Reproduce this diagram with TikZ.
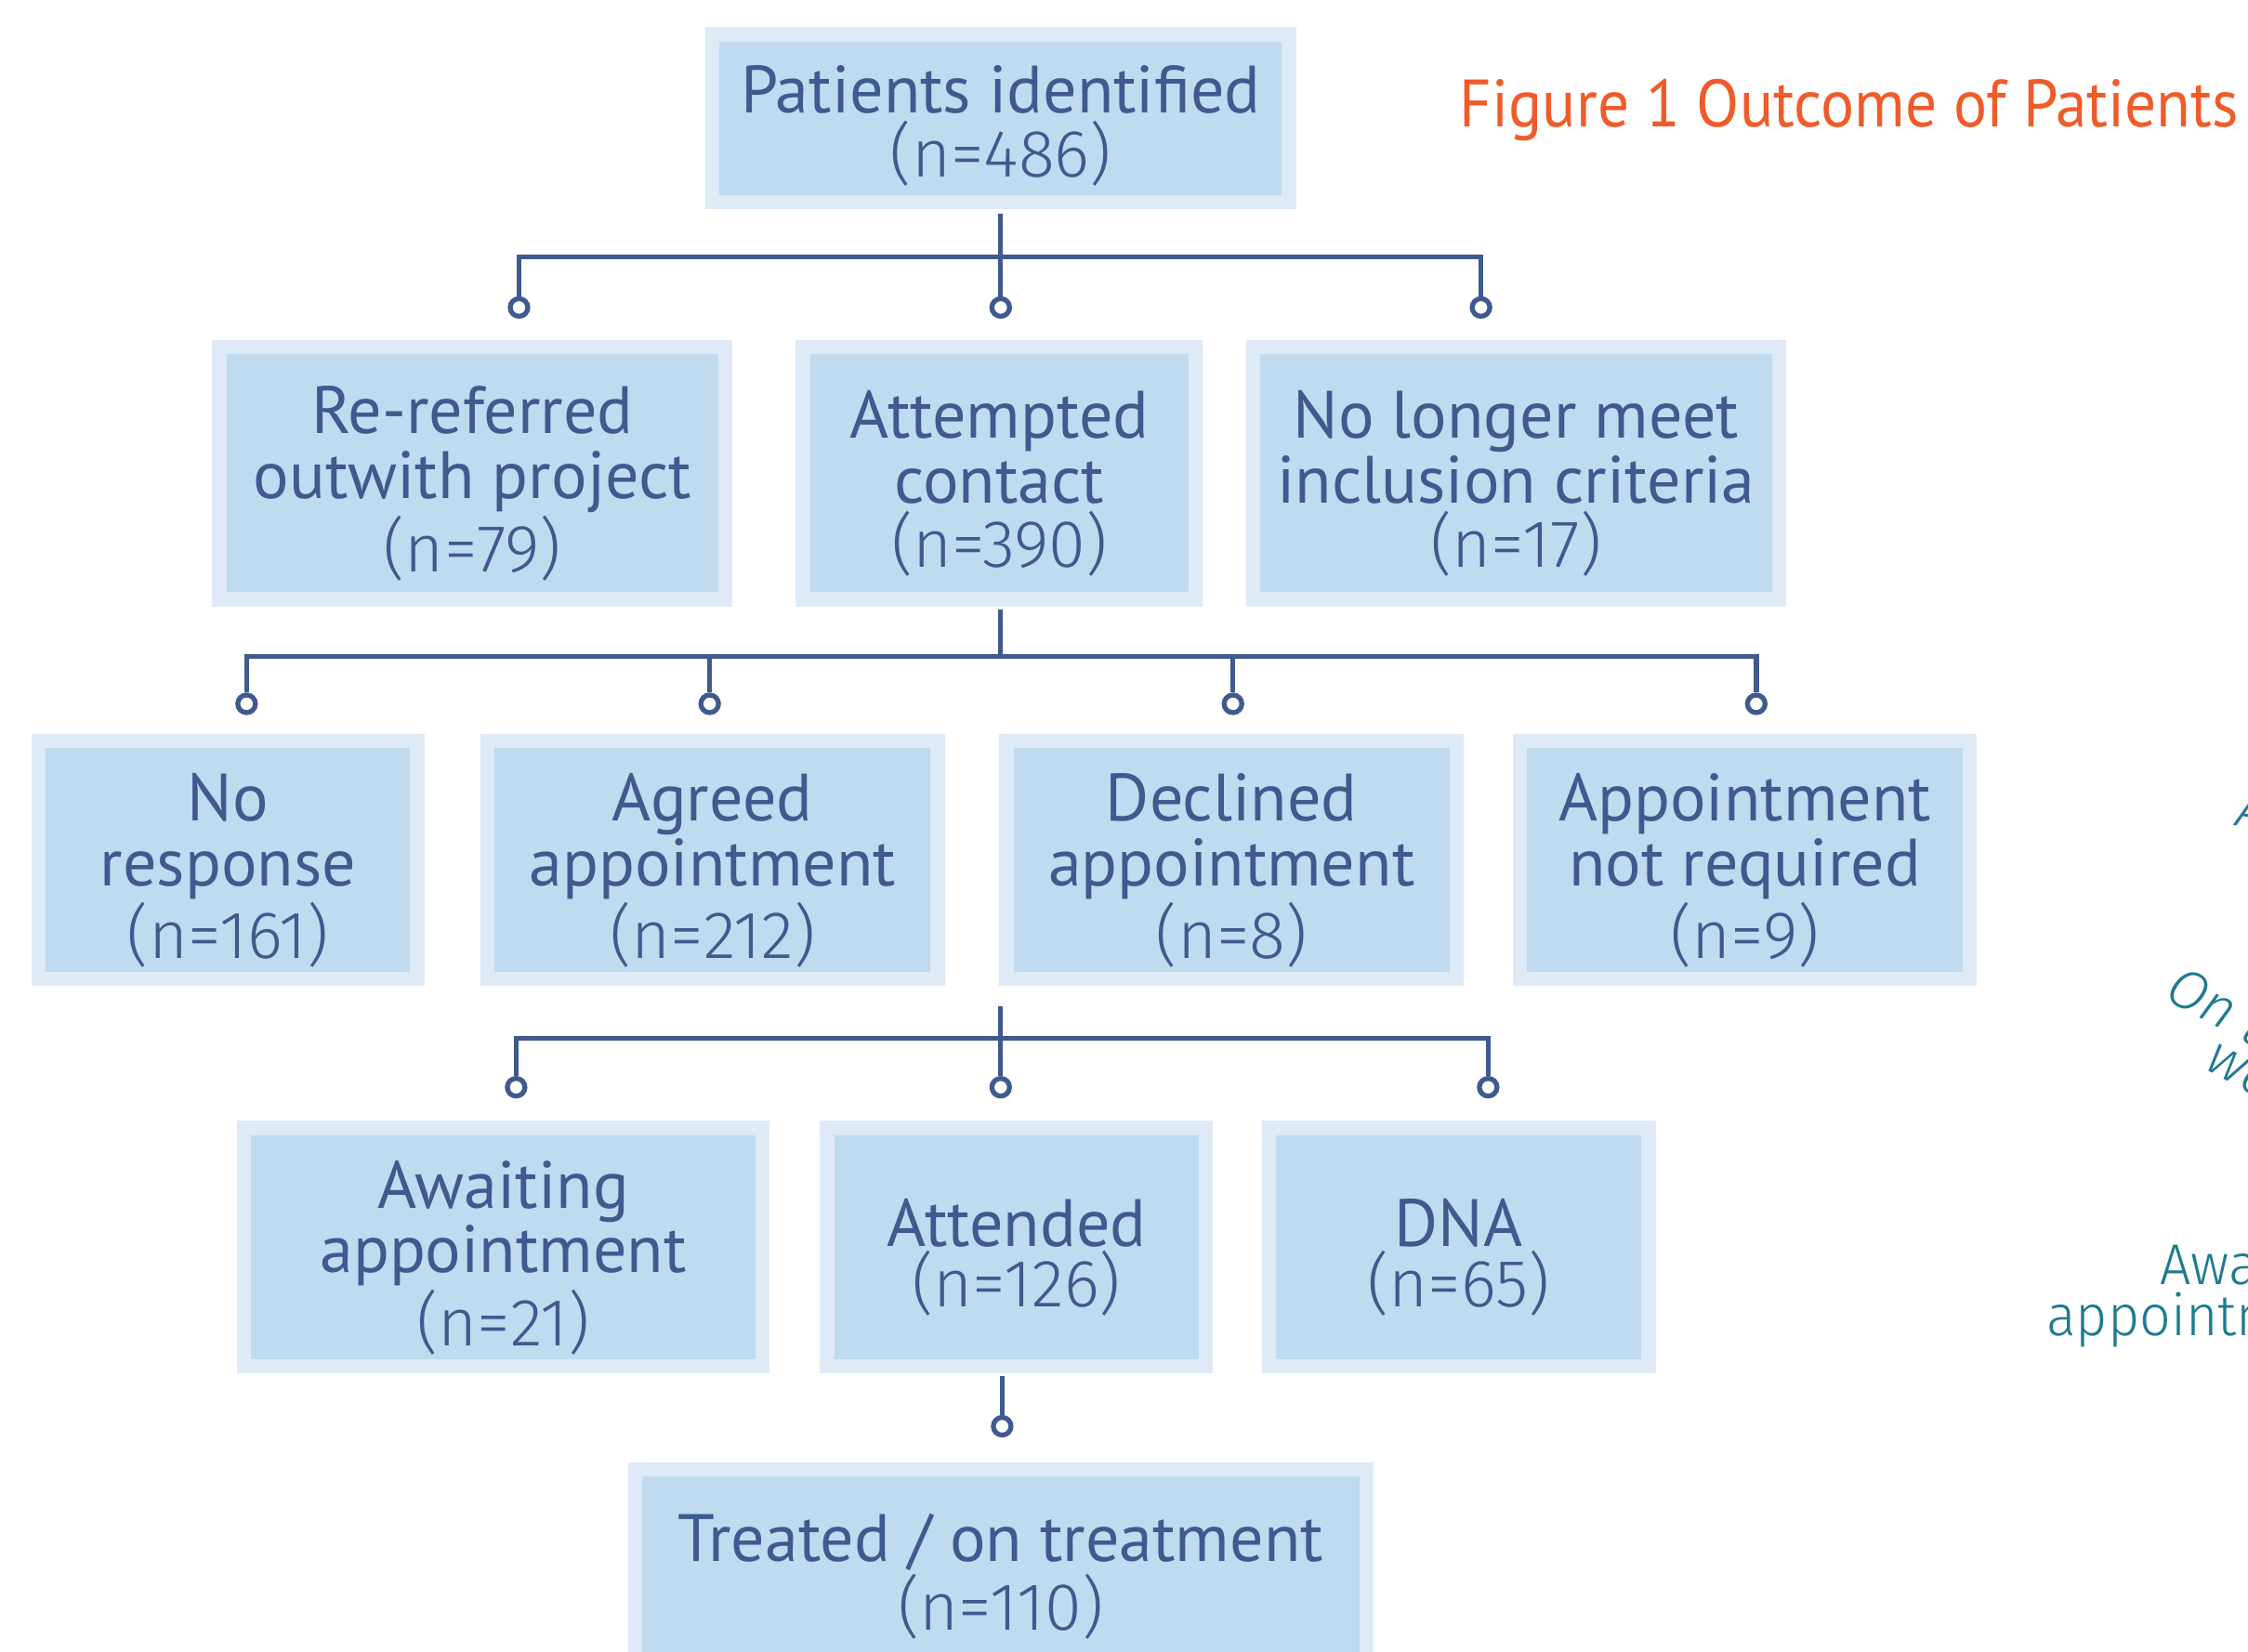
\documentclass[tikz,border=0pt]{standalone}
\usepackage{fontspec}
\setmainfont{PT Sans}
\newfontfamily\lightfont{Fira Sans Light}
\definecolor{ink}{HTML}{3E5A8E}
\definecolor{boxfill}{HTML}{C0DAEF}
\definecolor{boxrim}{HTML}{DEEAF6}
\definecolor{titlered}{HTML}{F15A29}
\definecolor{sidenote}{HTML}{1E7B8F}
% invisible strut that fixes the height of a box's first text line
\newcommand\headroom[1]{\rule{0pt}{#1}}
\begin{document}
\begin{tikzpicture}[x=0.015427cm,y=-0.015427cm,
  stagebox/.style={draw=boxrim, fill=boxfill, line width=0.154cm, rectangle,
    inner sep=0pt, align=center, text=ink,
    font=\fontsize{20.5}{19.8}\selectfont},
  tight/.style={font=\fontsize{20.5}{16.5}\selectfont},
  pin/.style={circle, draw=ink, fill=white, line width=1.5pt,
    minimum size=0.19cm, inner sep=0pt},
  conn/.style={draw=ink, line width=1.5pt},
  side/.style={text=sidenote, inner sep=0pt, anchor=base west}]

\useasboundingbox (0,0) rectangle (1568,1151.9);
\fill[white] (0,0) rectangle (1568,1151.9);
\clip (0,0) rectangle (1568,1151.9);

% title
\node[text=titlered, anchor=base west, inner sep=0pt, xscale=0.935, transform shape,
  font=\fontsize{20.5}{24}\selectfont] (title) at (1017.7,88.8)
  {Figure 1 Outcome of Patients};

% level 1
\node[stagebox, minimum width=6.202cm, minimum height=1.805cm] (pid) at (698,82.5)
  {\headroom{19.2pt}Patients identified\\\lightfont(n=486)};

% level 2
\node[stagebox, minimum width=5.446cm, minimum height=2.715cm] (rer) at (329.5,330)
  {\headroom{21pt}Re-referred\\outwith project\\\lightfont(n=79)};
\node[stagebox, minimum width=4.227cm, minimum height=2.715cm] (att) at (697,330)
  {\headroom{21pt}Attempted\\contact\\\lightfont(n=390)};
\node[stagebox, minimum width=5.662cm, minimum height=2.715cm] (nlm) at (1057.5,330)
  {\headroom{21pt}No longer meet\\inclusion criteria\\\lightfont(n=17)};

% level 3
\node[stagebox, minimum width=4.073cm, minimum height=2.561cm] (nor) at (159,600)
  {\headroom{21pt}No\\response\\\lightfont(n=161)};
\node[stagebox, minimum width=4.844cm, minimum height=2.561cm] (agr) at (497,600)
  {\headroom{21pt}Agreed\\appointment\\\lightfont(n=212)};
\node[stagebox, minimum width=4.844cm, minimum height=2.561cm] (dec) at (859,600)
  {\headroom{21pt}Declined\\appointment\\\lightfont(n=8)};
\node[stagebox, minimum width=4.844cm, minimum height=2.561cm] (anr) at (1217,600)
  {\headroom{21pt}Appointment\\not required\\\lightfont(n=9)};

% level 4
\node[stagebox, minimum width=5.585cm, minimum height=2.561cm] (awa) at (351,870)
  {\headroom{21pt}Awaiting\\appointment\\\lightfont(n=21)};
\node[stagebox, tight, minimum width=4.073cm, minimum height=2.561cm] (atd) at (709,870)
  {\headroom{21pt}Attended\\\lightfont(n=126)};
\node[stagebox, tight, minimum width=4.088cm, minimum height=2.561cm] (dna) at (1017.5,870)
  {\headroom{21pt}DNA\\\lightfont(n=65)};

% level 5 (runs off the lower edge)
\node[stagebox, minimum width=7.868cm, minimum height=2.314cm] (trt) at (698,1100)
  {Treated / on treatment\\\lightfont(n=110)};

% junction points of the connectors
\coordinate (j1) at (698,179);
\coordinate (j2) at (698,458);
\coordinate (s3) at (698,702);
\coordinate (j3) at (698,724.5);
\coordinate (s4) at (699,960);

% end pins
\node[pin] (k11) at (362,214.5) {};
\node[pin] (k12) at (698,214.5) {};
\node[pin] (k13) at (1033,214.5) {};
\node[pin] (k21) at (172,491) {};
\node[pin] (k22) at (495,491) {};
\node[pin] (k23) at (860,491) {};
\node[pin] (k24) at (1225,491) {};
\node[pin] (k31) at (360,758.5) {};
\node[pin] (k32) at (698,758.5) {};
\node[pin] (k33) at (1038,758.5) {};
\node[pin] (k41) at (699,995) {};

% connectors
\draw[conn] (pid.south) ++(0,3) -- (k12.north);
\draw[conn] (k11.north) |- (j1) -| (k13.north);

\draw[conn] (j2 |- att.south) ++(0,2) -- (j2);
\draw[conn] (k21.north) |- (j2) -| (k24.north);
\draw[conn] (k22.north) -- (k22.north |- j2);
\draw[conn] (k23.north) -- (k23.north |- j2);

\draw[conn] (s3) -- (k32.north);
\draw[conn] (k31.north) |- (j3) -| (k33.north);

\draw[conn] (s4) -- (k41.north);

% labels at the right margin
\node[side, rotate=-10, font=\lightfont\itshape\fontsize{17}{20}\selectfont] (n0) at (1558,576) {A};
\node[side, rotate=-28, font=\lightfont\itshape\fontsize{17}{20}\selectfont] (n1) at (1508,696) {On t};
\node[side, rotate=-28, font=\lightfont\itshape\fontsize{17}{20}\selectfont] (n2) at (1536,745) {wa};
\node[side, xscale=0.955, transform shape, font=\lightfont\fontsize{17.6}{20}\selectfont] (n3) at (1506,896) {Awaiting};
\node[side, xscale=0.955, transform shape, font=\lightfont\fontsize{17.6}{20}\selectfont] (n4) at (1427,932) {appointment};
\end{tikzpicture}
\end{document}
